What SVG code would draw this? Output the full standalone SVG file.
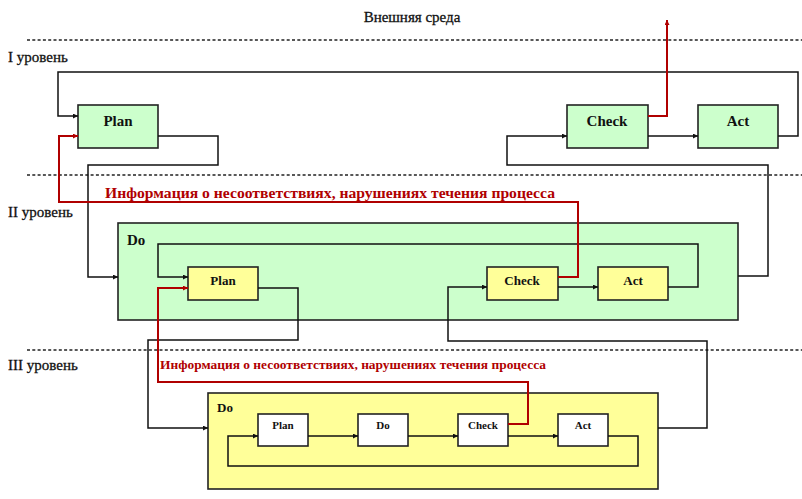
<svg xmlns="http://www.w3.org/2000/svg" width="802" height="499" viewBox="0 0 802 499">
<defs>
<marker id="ab" viewBox="0 0 10 10" refX="10" refY="5" markerWidth="5" markerHeight="5" orient="auto" markerUnits="userSpaceOnUse"><path d="M0,0 L10,5 L0,10 z" fill="#111"/></marker>
<marker id="ar" viewBox="0 0 10 10" refX="10" refY="5" markerWidth="5" markerHeight="5" orient="auto" markerUnits="userSpaceOnUse"><path d="M0,0 L10,5 L0,10 z" fill="#b00000"/></marker>
<style>
text{font-family:'Liberation Serif','Times New Roman','DejaVu Serif',serif;fill:#111}
.b{font-weight:bold}
.box{stroke:#222;stroke-width:1.6}
.g{fill:#ccffcc}
.y{fill:#ffff99}
.w{fill:#ffffff}
.c{fill:none;stroke:#111;stroke-width:1.5}
.r{fill:none;stroke:#b00000;stroke-width:2}
.d{stroke:#222;stroke-width:1.5;stroke-dasharray:3 2.3}
.rt{fill:#b00000;font-weight:bold}
</style>
</defs>
<rect width="802" height="499" fill="#fff"/>
<g id="labels">
<text x="412" y="22" font-size="15" text-anchor="middle" stroke="#111" stroke-width="0.3">Внешняя среда</text>
<line class="d" x1="27" y1="40" x2="802" y2="40"/>
<line class="d" x1="27" y1="175" x2="802" y2="175"/>
<line class="d" x1="27" y1="350" x2="802" y2="350"/>
<text x="8" y="62" font-size="15" stroke="#111" stroke-width="0.3">I уровень</text>
<text x="8" y="217" font-size="15" stroke="#111" stroke-width="0.3">II уровень</text>
<text x="8" y="370" font-size="15" stroke="#111" stroke-width="0.3">III уровень</text>
</g>
<g id="do2"><rect class="box g" x="118" y="223" width="620" height="97"/><text class="b" x="127" y="245" font-size="15">Do</text></g>
<g id="do3"><rect class="box y" x="208" y="393" width="450" height="96"/><text class="b" x="217" y="412" font-size="13">Do</text></g>
<g id="plan1"><rect class="box g" x="78" y="105" width="80" height="43"/><text class="b" x="118" y="126" font-size="15" text-anchor="middle">Plan</text></g>
<g id="check1"><rect class="box g" x="567" y="105" width="81" height="43"/><text class="b" x="607" y="126" font-size="15" text-anchor="middle">Check</text></g>
<g id="act1"><rect class="box g" x="698" y="105" width="80" height="43"/><text class="b" x="738" y="126" font-size="15" text-anchor="middle">Act</text></g>
<g id="plan2"><rect class="box y" x="188" y="267" width="70" height="33"/><text class="b" x="223" y="285" font-size="13" text-anchor="middle">Plan</text></g>
<g id="check2"><rect class="box y" x="487" y="267" width="71" height="33"/><text class="b" x="522" y="285" font-size="13" text-anchor="middle">Check</text></g>
<g id="act2"><rect class="box y" x="598" y="267" width="70" height="33"/><text class="b" x="633" y="285" font-size="13" text-anchor="middle">Act</text></g>
<g id="plan3"><rect class="box w" x="258" y="414" width="50" height="32"/><text class="b" x="283" y="429" font-size="11" text-anchor="middle">Plan</text></g>
<g id="do3i"><rect class="box w" x="358" y="414" width="50" height="32"/><text class="b" x="383" y="429" font-size="11" text-anchor="middle">Do</text></g>
<g id="check3"><rect class="box w" x="458" y="414" width="50" height="32"/><text class="b" x="483" y="429" font-size="11" text-anchor="middle">Check</text></g>
<g id="act3"><rect class="box w" x="558" y="414" width="50" height="32"/><text class="b" x="583" y="429" font-size="11" text-anchor="middle">Act</text></g>
<g id="connectors">
<path class="c" d="M778,136 H798 V72 H58 V116 H78" marker-end="url(#ab)"/>
<path class="c" d="M158,136 H218 V165 H88 V277 H118" marker-end="url(#ab)"/>
<path class="c" d="M738,276 H768 V165 H507 V136 H567" marker-end="url(#ab)"/>
<path class="c" d="M648,136 H698" marker-end="url(#ab)"/>
<path class="c" d="M668,287 H698 V244 H158 V277 H188" marker-end="url(#ab)"/>
<path class="c" d="M258,288 H298 V340 H148 V428 H208" marker-end="url(#ab)"/>
<path class="c" d="M658,428 H707 V341 H448 V287 H487" marker-end="url(#ab)"/>
<path class="c" d="M558,287 H598" marker-end="url(#ab)"/>
<path class="c" d="M308,436 H358" marker-end="url(#ab)"/>
<path class="c" d="M408,436 H458" marker-end="url(#ab)"/>
<path class="c" d="M508,436 H558" marker-end="url(#ab)"/>
<path class="c" d="M608,436 H638 V466 H228 V436 H258" marker-end="url(#ab)"/>
<path class="r" d="M648,116 H667 V20" marker-end="url(#ar)"/>
<path class="r" d="M558,277 H578 V202 H59 V136 H78" marker-end="url(#ar)"/>
<path class="r" d="M508,424 H528 V382 H158 V288 H188" marker-end="url(#ar)"/>
</g>
<g id="info">
<text class="rt" x="105" y="198" font-size="14" textLength="450" lengthAdjust="spacingAndGlyphs">Информация о несоответствиях, нарушениях течения процесса</text>
<text class="rt" x="160" y="369" font-size="12.5" textLength="386" lengthAdjust="spacingAndGlyphs">Информация о несоответствиях, нарушениях течения процесса</text>
</g>
</svg>
